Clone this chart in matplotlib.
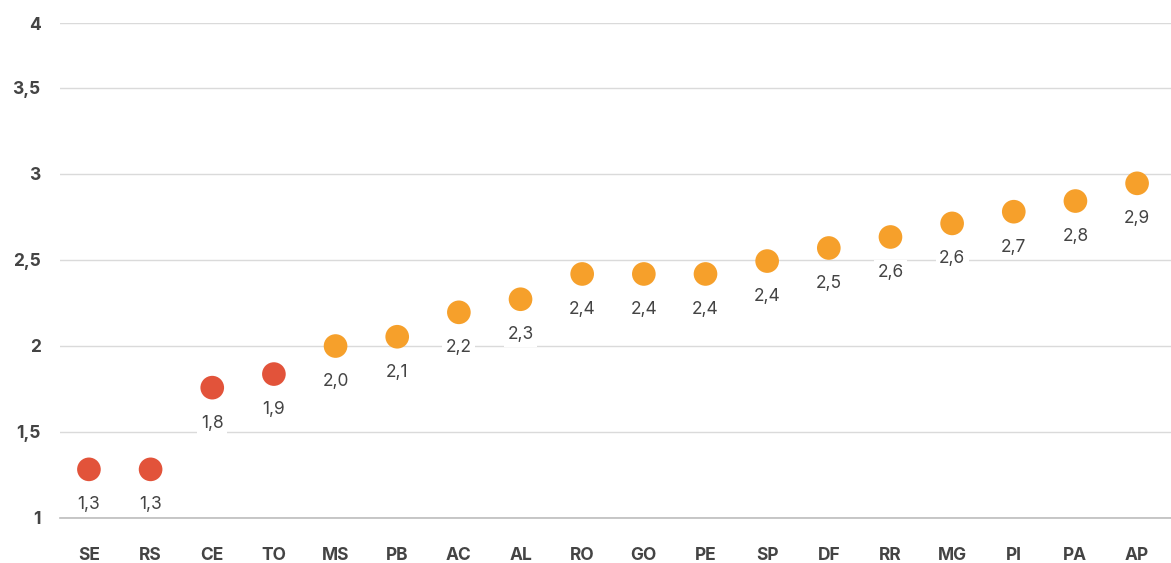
import numpy as np
import matplotlib
matplotlib.use("Agg")
import matplotlib.pyplot as plt

# states ordered by value
states = ['SE', 'RS', 'CE', 'TO', 'MS', 'PB', 'AC', 'AL', 'RO',
          'GO', 'PE', 'SP', 'DF', 'RR', 'MG', 'PI', 'PA', 'AP']
values = [1.28, 1.28, 1.755, 1.834, 1.997, 2.051, 2.193, 2.269, 2.416,
          2.416, 2.416, 2.491, 2.567, 2.631, 2.710, 2.778, 2.840, 2.943]
value_labels = ['1,3', '1,3', '1,8', '1,9', '2,0', '2,1', '2,2', '2,3', '2,4',
                '2,4', '2,4', '2,4', '2,5', '2,6', '2,6', '2,7', '2,8', '2,9']
groups = ['low'] * 4 + ['high'] * 14

y_ticks = [1, 1.5, 2, 2.5, 3, 3.5, 3.875]
y_tick_labels = ['1', '1,5', '2', '2,5', '3', '3,5', '4']

group_colors = {'low': '#E2533A', 'high': '#F6A02B'}

plt.rcParams['font.family'] = ['Inter', 'DejaVu Sans']

fig = plt.figure(figsize=(11.71, 5.63), dpi=100)
ax = fig.add_axes([0.0512, 0.0808, 0.9488, 0.8783])

x = np.arange(len(states))
colors = [group_colors[g] for g in groups]
ax.scatter(x, values, s=290, c=colors, zorder=3, linewidths=0)

for xi, v, lab in zip(x, values, value_labels):
    ax.annotate(lab, (xi, v), xytext=(0, -25.5), textcoords='offset points',
                ha='center', va='center', fontsize=12.5, color='#444444',
                zorder=2,
                bbox=dict(boxstyle='square,pad=0.2', fc='white', ec='none'))

ax.set_xlim(-0.47, len(states) - 1 + 0.55)
ax.set_ylim(1, 3.875)
ax.set_xticks(x)
ax.set_xticklabels(states, fontsize=12.5, fontweight='bold', color='#444444')
ax.set_yticks(y_ticks)
ax.set_yticklabels(y_tick_labels, fontsize=12.5, fontweight='bold', color='#444444')
ax.tick_params(axis='x', length=0, pad=21)
ax.tick_params(axis='y', length=0, pad=14)

ax.grid(axis='y', color='#DADADA', linewidth=1, zorder=0)
ax.set_axisbelow(True)
for side in ['top', 'right', 'left']:
    ax.spines[side].set_visible(False)
ax.spines['bottom'].set_color('#BDBDBD')
ax.spines['bottom'].set_linewidth(1.2)

fig.savefig('out.png', dpi=100)
